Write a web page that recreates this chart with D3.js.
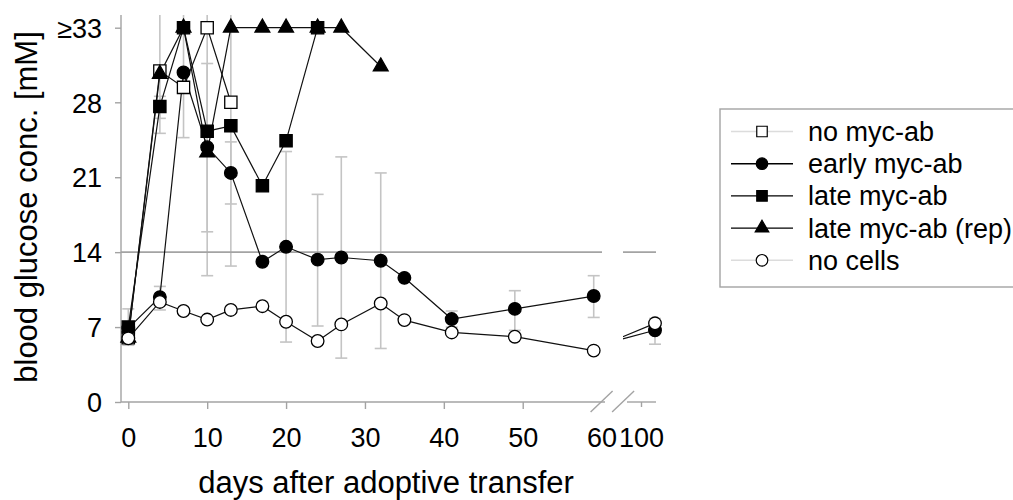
<!DOCTYPE html>
<html><head><meta charset="utf-8">
<script src="https://cdn.jsdelivr.net/npm/d3@7"></script>
<style>
body{margin:0;background:#fff}
text{font-family:"Liberation Sans",Arial,sans-serif;fill:#000}
</style>
</head><body>
<svg id="c" width="1013" height="500"></svg>
<script>
// ---------- data ----------
const seriesNames = ["no myc-ab","early myc-ab","late myc-ab","late myc-ab (rep)","no cells"];
const yTicks = [0,7,14,21,28,33];
const yTickLabels = ["0","7","14","21","28","≥33"];
const xTicksLeft = [0,10,20,30,40,50,60];
const xTicksRight = [100];
const thresholdValue = 14;

const noMycDays   = [0,4,7,10,13];
const noMycVals   = [6.0,30.1,29.0,33,28.0];
const noMycLo     = [null,25.1,null,11.8,12.7];
const noMycHi     = [null,34,null,34,34];

// null value = axis break (line interrupted); 97.4 = where the line re-enters after the break
const earlyDays   = [0,4,7,10,13,17,20,24,27,32,35,41,49,59,60,97.4,102];
const earlyVals   = [6.9,9.8,30.0,23.8,21.4,13.1,14.5,13.3,13.5,13.2,11.6,7.75,8.7,9.9,null,5.9,6.7];
const earlyLo     = [5.3,8.6,24.7,15.9,18.5,null,5.6,7.1,4.1,5.0,null,7.0,6.7,7.9,null,null,5.4];
const earlyHi     = [8.7,10.8,34,30.6,24.3,null,23.4,19.4,22.9,21.4,null,8.5,10.4,11.8,null,null,7.8];

const lateDays    = [0,4,7,10,13,17,20,24];
const lateVals    = [7.0,27.6,33,25.3,25.8,20.2,24.4,33];
const lateLo      = [null,26.5,null,null,null,null,null,null];
const lateHi      = [null,28.4,null,null,null,null,null,null];

const repDays     = [0,4,7,10,13,17,20,24,27,32];
const repVals     = [6.0,29.9,33,23.3,33,33,33,33,33,30.4];

const noCellsDays = [0,4,7,10,13,17,20,24,27,32,35,41,49,59,60,97.4,102];
const noCellsVals = [5.95,9.35,8.5,7.7,8.6,8.95,7.5,5.7,7.25,9.2,7.65,6.5,6.1,4.8,null,6.1,7.35];

// ---------- setup ----------
const svg = d3.select("#c");
const y = d3.scaleLinear().domain([0,28,33]).range([402,102.3,27.7]);
const xL = d3.scaleLinear().domain([0,60]).range([128.3,601.6]);
const xR = d3.scaleLinear().domain([100,102]).range([641,655]);
const X = d => d >= 90 ? xR(d) : xL(d);
const axisX = 121, plotTop = 15, gapL = 602, gapR = 623, axisEnd = 656;

const defs = svg.append("defs");
const gc = defs.append("clipPath").attr("id","gap");
gc.append("rect").attr("x",0).attr("y",0).attr("width",gapL).attr("height",500);
gc.append("rect").attr("x",gapR).attr("y",0).attr("width",1013-gapR).attr("height",500);
defs.append("clipPath").attr("id","plot").append("rect")
  .attr("x",axisX).attr("y",plotTop).attr("width",700).attr("height",402-plotTop);

const grey = "#a3a3a3";

// ---------- error bars ----------
const ebG = svg.append("g").attr("clip-path","url(#plot)")
  .attr("stroke","#c4c4c4").attr("stroke-width",1.6);
function errBars(days, lo, hi){
  days.forEach((d,i)=>{
    if(lo[i]==null) return;
    const cx = X(d);
    ebG.append("line").attr("x1",cx).attr("x2",cx).attr("y1",y(lo[i])).attr("y2",y(hi[i]));
    ebG.append("line").attr("x1",cx-6).attr("x2",cx+6).attr("y1",y(lo[i])).attr("y2",y(lo[i]));
    ebG.append("line").attr("x1",cx-6).attr("x2",cx+6).attr("y1",y(hi[i])).attr("y2",y(hi[i]));
  });
}
errBars(noMycDays,noMycLo,noMycHi);
errBars(earlyDays,earlyLo,earlyHi);
errBars(lateDays,lateLo,lateHi);

// ---------- threshold line ----------
svg.append("line").attr("clip-path","url(#gap)")
  .attr("x1",axisX).attr("x2",axisEnd).attr("y1",y(thresholdValue)).attr("y2",y(thresholdValue))
  .attr("stroke",grey).attr("stroke-width",1.6);

// ---------- axes ----------
const yAxis = svg.append("g").attr("transform",`translate(${axisX},0)`)
  .call(d3.axisLeft(y).tickValues(yTicks).tickSize(6).tickPadding(13)
    .tickFormat((d,i)=>yTickLabels[i]));
yAxis.select(".domain").remove();
yAxis.selectAll("line").attr("stroke",grey).attr("stroke-width",1.4);
yAxis.selectAll("text").attr("font-size",27).attr("font-family","Liberation Sans, Arial, sans-serif").attr("dy","0.36em");
svg.append("line").attr("x1",axisX).attr("x2",axisX).attr("y1",plotTop).attr("y2",y(0))
  .attr("stroke",grey).attr("stroke-width",1.4);

const xAxisL = svg.append("g").attr("transform",`translate(0,${y(0)})`)
  .call(d3.axisBottom(xL).tickValues(xTicksLeft).tickSize(7).tickFormat(d3.format("d")));
const xAxisR = svg.append("g").attr("transform",`translate(0,${y(0)})`)
  .call(d3.axisBottom(xR).tickValues(xTicksRight).tickSize(5).tickFormat(d3.format("d")));
[xAxisL,xAxisR].forEach(g=>{
  g.select(".domain").remove();
  g.selectAll("line").attr("stroke",grey).attr("stroke-width",1.4);
  g.selectAll("text").attr("font-size",27).attr("font-family","Liberation Sans, Arial, sans-serif")
    .attr("y",44.5).attr("dy",null);
});
xAxisL.selectAll(".tick").filter(d=>d===60).select("line").remove();
svg.append("line").attr("x1",axisX).attr("x2",gapL+3).attr("y1",y(0)).attr("y2",y(0))
  .attr("stroke",grey).attr("stroke-width",1.4);
svg.append("line").attr("x1",gapR+4).attr("x2",axisEnd).attr("y1",y(0)).attr("y2",y(0))
  .attr("stroke",grey).attr("stroke-width",1.4);
// break marks
[xL(60), xL(60)+21.5].forEach(cx=>{
  svg.append("line").attr("x1",cx-11).attr("x2",cx+11).attr("y1",y(0)+10).attr("y2",y(0)-11)
    .attr("stroke",grey).attr("stroke-width",1.4);
});

// ---------- titles ----------
svg.append("text").attr("x",386).attr("y",493).attr("text-anchor","middle")
  .attr("font-size",31).text("days after adoptive transfer");
svg.append("text").attr("transform","translate(37,207) rotate(-90)").attr("text-anchor","middle")
  .attr("font-size",31).text("blood glucose conc. [mM]");

// ---------- series ----------
const line = d3.line().defined(d=>d[1]!=null).x(d=>X(d[0])).y(d=>y(d[1]));
const sym = {
  square: d3.symbol().type(d3.symbolSquare).size(150),
  circle: d3.symbol().type(d3.symbolCircle).size(125),
  triangle: d3.symbol().type(d3.symbolTriangle).size(95)
};
const series = [
  {name:seriesNames[0], days:noMycDays, vals:noMycVals, shape:"square", fill:"#fff", legendLine:"#dcdcdc"},
  {name:seriesNames[3], days:repDays, vals:repVals, shape:"triangle", fill:"#000", legendLine:"#000"},
  {name:seriesNames[2], days:lateDays, vals:lateVals, shape:"square", fill:"#000", legendLine:"#000"},
  {name:seriesNames[1], days:earlyDays, vals:earlyVals, shape:"circle", fill:"#000", legendLine:"#000"},
  {name:seriesNames[4], days:noCellsDays, vals:noCellsVals, shape:"circle", fill:"#fff", legendLine:"#dcdcdc"}
];
const linesG = svg.append("g").attr("clip-path","url(#gap)");
series.forEach(s=>{
  const pts = s.days.map((d,i)=>[d,s.vals[i]]);
  linesG.append("path").datum(pts).attr("d",line).attr("fill","none")
    .attr("stroke","#111").attr("stroke-width",1.2);
});
const isMarker = d => d[1]!=null && (d[0] < 90 || d[0] >= 100);
series.forEach(s=>{
  const pts = s.days.map((d,i)=>[d,s.vals[i]]).filter(isMarker);
  svg.append("g").selectAll("path").data(pts).join("path")
    .attr("transform",d=>`translate(${X(d[0])},${y(d[1])})`)
    .attr("d",sym[s.shape]()).attr("fill",s.fill).attr("stroke","#000").attr("stroke-width",1.3);
});

// ---------- legend ----------
const lg = svg.append("g");
lg.append("rect").attr("x",720).attr("y",109).attr("width",320).attr("height",178)
  .attr("fill","#fff").attr("stroke",grey).attr("stroke-width",1.4);
const legendOrder = [0,3,2,1,4].map(i=>series[i]);
const legendSym = {
  square: d3.symbol().type(d3.symbolSquare).size(110),
  circle: d3.symbol().type(d3.symbolCircle).size(105),
  triangle: d3.symbol().type(d3.symbolTriangle).size(80)
};
legendOrder.forEach((s,i)=>{
  const cy = 131.5 + i*32.2;
  lg.append("line").attr("x1",731).attr("x2",793).attr("y1",cy).attr("y2",cy)
    .attr("stroke",s.legendLine).attr("stroke-width",1.4);
  lg.append("path").attr("transform",`translate(762,${cy})`).attr("d",legendSym[s.shape]())
    .attr("fill",s.fill).attr("stroke","#000").attr("stroke-width",1.2);
  lg.append("text").attr("x",808).attr("y",cy).attr("dy","0.35em").attr("font-size",27).text(s.name);
});
</script>
</body></html>
